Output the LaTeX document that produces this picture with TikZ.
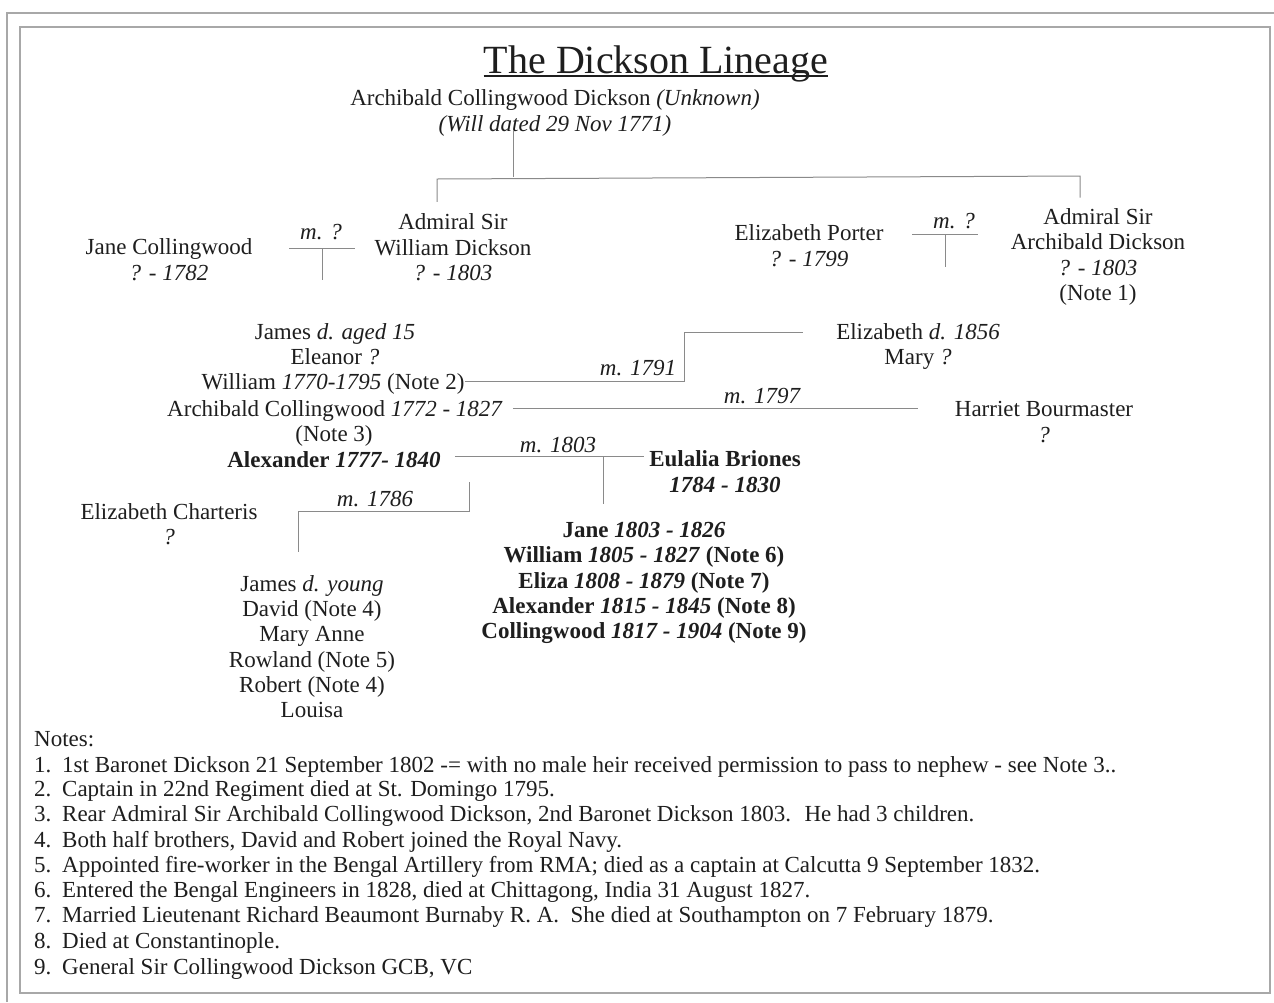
\documentclass[tikz,border=0pt]{standalone}
\usepackage{fontspec}
\setmainfont{Liberation Serif}
\usetikzlibrary{calc}
\definecolor{ink}{HTML}{1E1E1E}
\definecolor{wirec}{HTML}{8A8A8A}
\definecolor{framec}{HTML}{A8A8A8}
\begin{document}
\begin{tikzpicture}[x=1pt,y=-1pt,
  txt/.style={inner sep=0pt, text=ink, font=\fontsize{23}{25.3}\selectfont, align=center},
  lab/.style={txt, font=\fontsize{23}{25.3}\selectfont\itshape},
  bld/.style={txt, font=\fontsize{23}{25.3}\selectfont\bfseries},
  note/.style={txt, anchor=west, align=left},
  wire/.style={draw=wirec, line width=1pt},
  frm/.style={draw=framec, line width=1.2pt}]
\useasboundingbox (0,0) rectangle (1274,1002);
\fill[white] (0,0) rectangle (1274,1002);
% frames
\draw[frm] (7,1002) -- (7,13) -- (1274,13);
\draw[frm] (20,27) rectangle (1270,993);
% title
\node[txt, font=\fontsize{40}{44}\selectfont, anchor=base] (title) at (656,73) {The Dickson Lineage};
\draw[draw=ink, line width=1.3pt] ($(title.base west)+(0,3)$) -- ($(title.base east)+(0,3)$);
% people
\node[txt] (acd) at (555,113.5) {\strut Archibald Collingwood Dickson \textit{(Unknown)}\\\strut\textit{(Will dated 29 Nov 1771)}};
\node[txt] (wd) at (453,250) {\strut Admiral Sir\\\strut William Dickson\\\strut\textit{? - 1803}};
\node[txt] (jc) at (169,262.5) {\strut Jane Collingwood\\\strut\textit{? - 1782}};
\node[txt] (ep) at (809,248.5) {\strut Elizabeth Porter\\\strut\textit{? - 1799}};
\node[txt] (ad) at (1098,257.5) {\strut Admiral Sir\\\strut Archibald Dickson\\\strut\textit{? - 1803}\\\strut(Note 1)};
\node[txt] (james) at (335,334) {\strut James \textit{d. aged 15}};
\node[txt] (eleanor) at (335,359) {\strut Eleanor \textit{?}};
\node[txt] (william) at (333,384) {\strut William \textit{1770-1795} (Note 2)};
\node[txt] (archc) at (335,411) {\strut Archibald Collingwood \textit{1772 - 1827}};
\node[txt] (note3) at (334,436) {\strut (Note 3)};
\node[bld] (alex) at (334,462) {\strut Alexander \textit{1777- 1840}};
\node[txt] (elizd) at (918,334) {\strut Elizabeth \textit{d. 1856}};
\node[txt] (mary) at (918,359) {\strut Mary \textit{?}};
\node[txt] (hb) at (1044,424.5) {\strut Harriet Bourmaster\\\strut\textit{?}};
\node[bld] (eul) at (725,474.5) {\strut Eulalia Briones\\\strut\textit{1784 - 1830}};
\node[txt] (ec) at (169,527) {\strut Elizabeth Charteris\\\strut\textit{?}};
\node[txt] (kidsa) at (312,649.5) {\strut James \textit{d. young}\\\strut David (Note 4)\\\strut Mary Anne\\\strut Rowland (Note 5)\\\strut Robert (Note 4)\\\strut Louisa};
\node[bld] (kidsb) at (644,583) {\strut Jane \textit{1803 - 1826}\\\strut William \textit{1805 - 1827} (Note 6)\\\strut Eliza \textit{1808 - 1879} (Note 7)\\\strut Alexander \textit{1815 - 1845} (Note 8)\\\strut Collingwood \textit{1817 - 1904} (Note 9)};
% marriage labels
\node[lab] (l1) at (321,234) {\strut m. ?};
\node[lab] (l2) at (954,223) {\strut m. ?};
\node[lab] (l3) at (638,370) {\strut m. 1791};
\node[lab] (l4) at (762,398) {\strut m. 1797};
\node[lab] (l5) at (558,447) {\strut m. 1803};
\node[lab] (l6) at (375,501) {\strut m. 1786};
% connectors
\coordinate (tv) at (513,177);
\coordinate (hl) at (437,179);
\coordinate (hr) at (1080,176);
\draw[wire] ($(tv |- acd.south)+(0,-9)$) -- (tv);
\draw[wire] ($(hl |- wd.north)+(0,-10)$) -- (hl) -- (hr) -- ($(hr |- ad.north)+(0,-9)$);
\coordinate (mjw) at (322,248);
\draw[wire] ($(mjw)+(-33,0)$) -- ($(mjw)+(33,0)$);
\draw[wire] (mjw) -- ++(0,32);
\coordinate (mep) at (945,234);
\draw[wire] ($(mep)+(-33,0)$) -- ($(mep)+(33,0)$);
\draw[wire] (mep) -- ++(0,33);
\coordinate (k91) at (684,381);
\draw[wire] ($(william.east)+(0,-3)$) -- (k91) -- (k91 |- 0,332) -- ($(elizd.west |- 0,332)+(-33,0)$);
\draw[wire] ($(archc.east)+(10,-3)$) -- ($(archc.east -| hb.west)+(-37,-3)$);
\coordinate (k03) at (603,456);
\draw[wire] ($(alex.east)+(14,-6)$) -- ($(alex.east -| eul.west)+(-5,-6)$);
\draw[wire] (k03) -- ($(k03 |- kidsb.north)+(0,-16)$);
\coordinate (a86) at (469,482);
\coordinate (k86) at (469,511);
\coordinate (b86) at (298,552);
\draw[wire] (a86) -- (k86) -| (b86);
% notes
\node[note] (notes) at (34,741) {\strut Notes:};
\node[note] (n1) at (34,767) {\strut\makebox[28pt][l]{1.}1st Baronet Dickson 21 September 1802 -= with no male heir received permission to pass to nephew - see Note 3..};
\node[note] (n2) at (34,791) {\strut\makebox[28pt][l]{2.}Captain in 22nd Regiment died at St. Domingo 1795.};
\node[note] (n3) at (34,816) {\strut\makebox[28pt][l]{3.}Rear Admiral Sir Archibald Collingwood Dickson, 2nd Baronet Dickson 1803. \ He had 3 children.};
\node[note] (n4) at (34,842) {\strut\makebox[28pt][l]{4.}Both half brothers, David and Robert joined the Royal Navy.};
\node[note] (n5) at (34,867) {\strut\makebox[28pt][l]{5.}Appointed fire-worker in the Bengal Artillery from RMA; died as a captain at Calcutta 9 September 1832.};
\node[note] (n6) at (34,892) {\strut\makebox[28pt][l]{6.}Entered the Bengal Engineers in 1828, died at Chittagong, India 31 August 1827.};
\node[note] (n7) at (34,917) {\strut\makebox[28pt][l]{7.}Married Lieutenant Richard Beaumont Burnaby R. A. \ She died at Southampton on 7 February 1879.};
\node[note] (n8) at (34,943) {\strut\makebox[28pt][l]{8.}Died at Constantinople.};
\node[note] (n9) at (34,969) {\strut\makebox[28pt][l]{9.}General Sir Collingwood Dickson GCB, VC};
\end{tikzpicture}
\end{document}
